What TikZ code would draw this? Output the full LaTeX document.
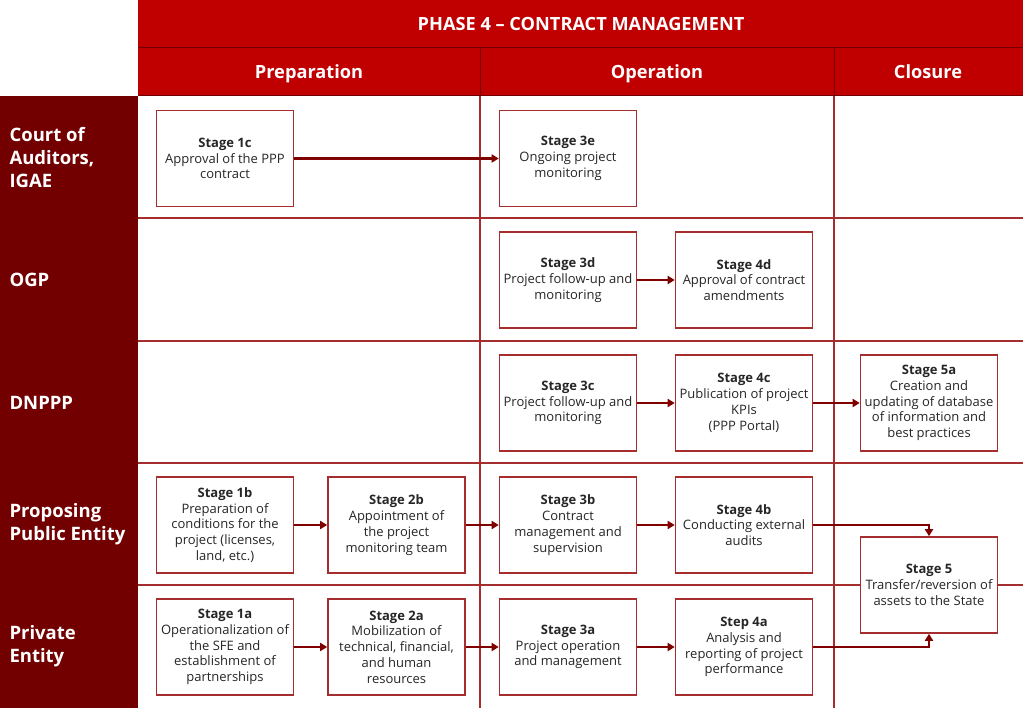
\documentclass[tikz,border=0pt]{standalone}
\usepackage{fontspec}
\setmainfont{Open Sans}
\usetikzlibrary{arrows.meta}
\definecolor{hdr}{RGB}{192,0,0}
\definecolor{lane}{RGB}{114,0,0}
\definecolor{grid}{RGB}{165,45,45}
\definecolor{arr}{RGB}{128,0,0}
\definecolor{txt}{RGB}{38,38,38}
\begin{document}
\begin{tikzpicture}[x=1pt,y=-1pt,
  stagebox/.style={draw=grid,line width=1.6pt,fill=white,minimum width=137pt,minimum height=96pt,
    align=center,inner sep=1pt,font=\fontsize{13}{15.8}\selectfont,text=txt},
  lanelabel/.style={anchor=west,align=left,text=white,font=\fontsize{18.5}{23}\selectfont\bfseries},
  hdrlabel/.style={text=white,font=\fontsize{18.2}{20}\selectfont\bfseries,text height=13pt,text depth=4pt},
  flow/.style={draw=arr,line width=2.8pt,-{Triangle[length=7pt,width=8pt]}},
  gridline/.style={draw=grid,line width=1.2pt}]
\useasboundingbox (0,0) rectangle (1024,708);
% header
\fill[hdr] (138,0) rectangle (1023,96);
\draw[lane,line width=1pt] (138,48) -- (1023,48);
\draw[lane,line width=1pt] (138,96) -- (1023,96);
\draw[lane,line width=1pt] (480,48) -- (480,96);
\draw[lane,line width=1pt] (834,48) -- (834,96);
\node[hdrlabel] (title) at (581,26.5) {PHASE 4 – CONTRACT MANAGEMENT};
\node[hdrlabel] (prep) at (309,74.5) {Preparation};
\node[hdrlabel] (oper) at (657,74.5) {Operation};
\node[hdrlabel] (clos) at (928,74.5) {Closure};
% lanes
\fill[lane] (0,96) rectangle (138,708);
\node[lanelabel] (l1) at (6,157.5) {Court of\\Auditors,\\IGAE};
\node[lanelabel] (l2) at (6,280) {OGP};
\node[lanelabel] (l3) at (6,402.5) {DNPPP};
\node[lanelabel] (l4) at (6,524.5) {Proposing\\Public Entity};
\node[lanelabel] (l5) at (6,646.5) {Private\\Entity};
% grid
\foreach \yy in {218,341,463,585} \draw[gridline] (138,\yy) -- (1023,\yy);
\draw[gridline] (480,96) -- (480,708);
\draw[gridline] (834,96) -- (834,708);
% boxes
\node[stagebox] (s1c) at (225,158.5) {\textbf{Stage 1c}\\Approval of the PPP\\contract};
\node[stagebox] (s3e) at (568,158.5) {\textbf{Stage 3e}\\Ongoing project\\monitoring};
\node[stagebox] (s3d) at (568,280) {\textbf{Stage 3d}\\Project follow-up and\\monitoring};
\node[stagebox] (s4d) at (744,280) {\textbf{Stage 4d}\\Approval of contract\\amendments};
\node[stagebox] (s3c) at (568,403) {\textbf{Stage 3c}\\Project follow-up and\\monitoring};
\node[stagebox] (s4c) at (744,403) {\textbf{Stage 4c}\\Publication of project\\KPIs\\(PPP Portal)};
\node[stagebox] (s5a) at (929,403) {\textbf{Stage 5a}\\Creation and\\updating of database\\of information and\\best practices};
\node[stagebox] (s1b) at (225,525) {\textbf{Stage 1b}\\Preparation of\\conditions for the\\project (licenses,\\land, etc.)};
\node[stagebox] (s2b) at (396.5,525) {\textbf{Stage 2b}\\Appointment of\\the project\\monitoring team};
\node[stagebox] (s3b) at (568,525) {\textbf{Stage 3b}\\Contract\\management and\\supervision};
\node[stagebox] (s4b) at (744,525) {\textbf{Stage 4b}\\Conducting external\\audits};
\node[stagebox] (s1a) at (225,647) {\textbf{Stage 1a}\\Operationalization of\\the SFE and\\establishment of\\partnerships};
\node[stagebox] (s2a) at (396.5,647) {\textbf{Stage 2a}\\Mobilization of\\technical, financial,\\and human\\resources};
\node[stagebox] (s3a) at (568,647) {\textbf{Stage 3a}\\Project operation\\and management};
\node[stagebox] (s4a) at (744,647) {\textbf{Step 4a}\\Analysis and\\reporting of project\\performance};
\node[stagebox] (s5) at (929,585) {\textbf{Stage 5}\\Transfer/reversion of\\assets to the State};
% arrows
\draw[flow] (s1c) -- (s3e);
\draw[flow] (s3d) -- (s4d);
\draw[flow] (s3c) -- (s4c);
\draw[flow] (s4c) -- (s5a);
\draw[flow] (s1b) -- (s2b);
\draw[flow] (s2b) -- (s3b);
\draw[flow] (s3b) -- (s4b);
\draw[flow] (s1a) -- (s2a);
\draw[flow] (s2a) -- (s3a);
\draw[flow] (s3a) -- (s4a);
\draw[flow] (s4b.east) -| (s5.north);
\draw[flow] (s4a.east) -| (s5.south);
\end{tikzpicture}
\end{document}
